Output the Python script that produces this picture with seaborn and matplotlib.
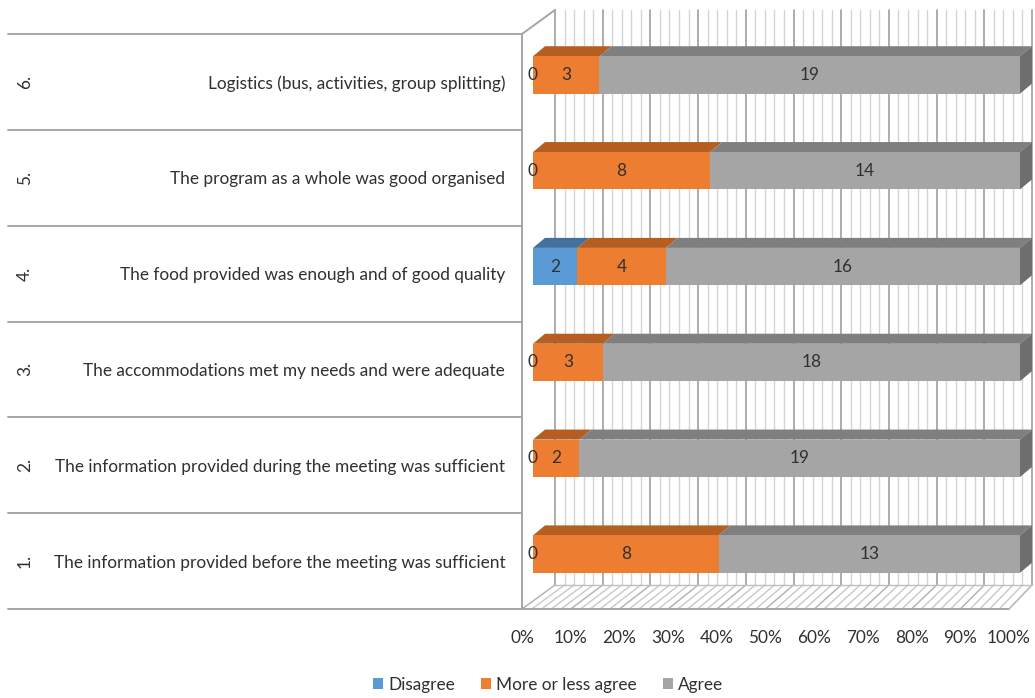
import numpy as np
import pandas as pd
import matplotlib
matplotlib.use("Agg")
import matplotlib.pyplot as plt
import seaborn as sns
from matplotlib.patches import Polygon, Patch
from matplotlib.transforms import ScaledTranslation

# ---------------- data ----------------
categories = [
    "Logistics (bus, activities, group splitting)",
    "The program as a whole was good organised",
    "The food provided was enough and of good quality",
    "The accommodations met my needs and were adequate",
    "The information provided during the meeting was sufficient",
    "The information provided before the meeting was sufficient",
]
numbers = ["6.", "5.", "4.", "3.", "2.", "1."]
disagree = [0, 0, 2, 0, 0, 0]
more_or_less = [3, 8, 4, 3, 2, 8]
agree = [19, 14, 16, 18, 19, 13]
series_names = ["Disagree", "More or less agree", "Agree"]
x_ticks = [0, 10, 20, 30, 40, 50, 60, 70, 80, 90, 100]

colors = ["#5B9BD5", "#ED7D31", "#A5A5A5"]
top_colors = ["#41719C", "#B45E22", "#7F7F7F"]
side_color = "#6E6E6E"
text_color = "#303030"
FS = 12.4

sns.set_style("white")
plt.rcParams["font.family"] = ["Lato", "DejaVu Sans"]
plt.rcParams["font.size"] = FS

W, H = 1035, 698
fig = plt.figure(figsize=(W / 100, H / 100), dpi=100)

# decoration axes in pixel coordinates (3-D walls, floor, table lines)
deco = fig.add_axes([0, 0, 1, 1], zorder=0)
deco.set_xlim(0, W)
deco.set_ylim(H, 0)
deco.axis("off")

# main axes: the plane of the bar front faces
ax = fig.add_axes([533 / W, (H - 602) / H, 487 / W, 575 / H], zorder=2)
ax.patch.set_alpha(0)

df = pd.DataFrame({"cat": categories, "dis": disagree, "mol": more_or_less, "agr": agree})
tot = df[["dis", "mol", "agr"]].sum(axis=1)
df["p_dis"] = df["dis"] / tot * 100
df["p_mol"] = df["mol"] / tot * 100
df["p_agr"] = df["agr"] / tot * 100
df["c_dis"] = df["p_dis"]
df["c_mol"] = df["c_dis"] + df["p_mol"]
df["c_agr"] = df["c_mol"] + df["p_agr"]

bw = 0.39
for col, c in zip(["c_agr", "c_mol", "c_dis"], colors[::-1]):
    sns.barplot(data=df, y="cat", x=col, orient="h", color=c, saturation=1,
                width=bw, linewidth=0, ax=ax, errorbar=None)

ax.set_xlim(0, 100)
ax.set_ylim(5.5, -0.5)
ax.set_xlabel("")
ax.set_ylabel("")
for s in ax.spines.values():
    s.set_visible(False)

# x tick labels on the front plane (shifted 11 px left of the bar plane)
ax.set_xticks(x_ticks)
ax.set_xticklabels([f"{t}%" for t in x_ticks], color=text_color, fontsize=FS)
ax.tick_params(axis="x", length=0, pad=20)
for lab in ax.get_xticklabels():
    lab.set_transform(lab.get_transform() + ScaledTranslation(-11 / 100, 0, fig.dpi_scale_trans))
# y tick labels (category names) on the front plane
ax.set_yticks(range(len(categories)))
ax.set_yticklabels(categories, color=text_color, fontsize=FS)
ax.tick_params(axis="y", length=0, pad=20)
for lab in ax.get_yticklabels():
    lab.set_transform(lab.get_transform() + ScaledTranslation(0, -7 / 100, fig.dpi_scale_trans))


def to_px(x, y):
    dx, dy = ax.transData.transform((x, y))
    return dx, H - dy


# ---------------- back wall & floor ----------------
fx0, fx1 = to_px(0, 0)[0] - 11, to_px(100, 0)[0] - 11   # front plane x-range
bx0, bx1 = fx0 + 33, fx0 + 33 + 477                     # back wall x-range
ytop_front = to_px(0, -0.5)[1] + 7
ybot_front = to_px(0, 5.5)[1] + 7
ytop_back = ytop_front - 24
ybot_back = ybot_front - 24

for v in range(0, 101, 2):
    xb = bx0 + (bx1 - bx0) * v / 100
    xf = fx0 + (fx1 - fx0) * v / 100
    major = v % 10 == 0
    deco.plot([xb, xb], [ytop_back, ybot_back], color="#A6A6A6" if major else "#D4D4D4",
              lw=1.3 if major else 1.0, zorder=1)
    deco.plot([xf, xb], [ybot_front, ybot_back], color="#B0B0B0" if major else "#C8C8C8",
              lw=1.0, zorder=1)

edge = "#A6A6A6"
deco.plot([fx0, fx0], [ytop_front, ybot_front], color=edge, lw=1.4, zorder=2)
deco.plot([fx0, bx0], [ytop_front, ytop_back], color=edge, lw=1.4, zorder=2)
deco.plot([fx0, fx1], [ybot_front, ybot_front], color=edge, lw=1.4, zorder=2)
deco.plot([fx1, bx1], [ybot_front, ybot_back], color="#BFBFBF", lw=1.0, zorder=2)
deco.plot([bx0, bx1], [ybot_back, ybot_back], color="#BFBFBF", lw=1.0, zorder=2)

# table lines of the category area
for k in range(len(categories) + 1):
    yy = to_px(0, k - 0.5)[1] + 7
    deco.plot([8, fx0], [yy, yy], color="#A6A6A6", lw=1.4, zorder=2)

# rotated row numbers
for i, n in enumerate(numbers):
    yy = to_px(0, i)[1] + 7
    deco.text(25, yy, n, rotation=90, ha="center", va="center", color=text_color, fontsize=FS)

# ---------------- 3-D faces of the bars ----------------
ddx, ddy = 12, 10
lefts = [np.zeros(len(df)), df["c_dis"].values, df["c_mol"].values]
rights = [df["c_dis"].values, df["c_mol"].values, df["c_agr"].values]
for s in range(3):
    for i in range(len(df)):
        l, r = lefts[s][i], rights[s][i]
        if r - l <= 0:
            continue
        xl, yt = to_px(l, i - bw / 2)
        xr, yb = to_px(r, i + bw / 2)
        deco.add_patch(Polygon([(xl, yt), (xr, yt), (xr + ddx, yt - ddy), (xl + ddx, yt - ddy)],
                               closed=True, facecolor=top_colors[s], edgecolor="none", zorder=5))
        if s == 2:
            deco.add_patch(Polygon([(xr, yt), (xr + ddx, yt - ddy), (xr + ddx, yb - ddy), (xr, yb)],
                                   closed=True, facecolor=side_color, edgecolor="none", zorder=5))

# ---------------- data labels ----------------
vals = [disagree, more_or_less, agree]
for s in range(3):
    for i in range(len(df)):
        l, r = lefts[s][i], rights[s][i]
        ax.text((l + r) / 2, i, f"{vals[s][i]}", ha="center", va="center",
                color=text_color, fontsize=FS, zorder=6)

# ---------------- legend ----------------
handles = [Patch(facecolor=c, edgecolor="none", label=n) for c, n in zip(colors, series_names)]
fig.legend(handles=handles, loc="center", bbox_to_anchor=(548 / W, 1 - 685 / H), ncol=3,
           frameon=False, fontsize=FS, handlelength=0.6, handleheight=0.6,
           handletextpad=0.3, columnspacing=1.5, labelcolor=text_color)

fig.savefig("out.png", dpi=100)
